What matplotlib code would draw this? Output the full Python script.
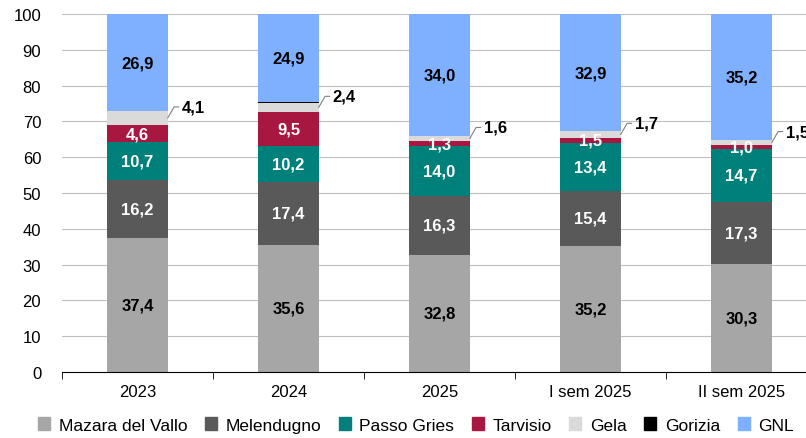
import matplotlib.pyplot as plt
from matplotlib.patches import Patch
import numpy as np

plt.rcParams['font.family'] = ['Liberation Sans', 'DejaVu Sans']

categories = ["2023", "2024", "2025", "I sem 2025", "II sem 2025"]
series = ["Mazara del Vallo", "Melendugno", "Passo Gries", "Tarvisio", "Gela", "Gorizia", "GNL"]
mazara = [37.4, 35.6, 32.8, 35.2, 30.3]
melendugno = [16.2, 17.4, 16.3, 15.4, 17.3]
passo_gries = [10.7, 10.2, 14.0, 13.4, 14.7]
tarvisio = [4.6, 9.5, 1.3, 1.5, 1.0]
gela = [4.1, 2.4, 1.6, 1.7, 1.5]
gorizia = [0.0, 0.2, 0.0, 0.0, 0.0]
gnl = [26.9, 24.9, 34.0, 32.9, 35.2]

values = [mazara, melendugno, passo_gries, tarvisio, gela, gorizia, gnl]
colors = ["#A6A6A6", "#595959", "#00807A", "#A8173F", "#DADADA", "#000000", "#7EB0FF"]
label_colors = ["black", "white", "white", "white", None, None, "black"]

fig = plt.figure(figsize=(8.06, 4.39), dpi=100)
ax = fig.add_axes([62 / 806, 66 / 439, 755 / 806, 358 / 439])

x = np.arange(len(categories))
width = 0.4
bottom = np.zeros(len(categories))
for vals, col, lc in zip(values, colors, label_colors):
    vals = np.array(vals)
    ax.bar(x, vals, width, bottom=bottom, color=col, zorder=2)
    if lc is not None:
        for i, v in enumerate(vals):
            ax.text(x[i], bottom[i] + v / 2, f"{v:.1f}".replace(".", ","),
                    ha="center", va="center", color=lc, fontsize=12,
                    fontweight="bold", zorder=3)
    elif col == "#DADADA":
        # Gela: label outside with a leader line
        for i, v in enumerate(vals):
            ax.annotate(f"{v:.1f}".replace(".", ","),
                        xy=(x[i] + width / 2, bottom[i] + v / 2),
                        xytext=(10, 8), textcoords="offset points",
                        ha="left", va="center", fontsize=12, fontweight="bold",
                        arrowprops=dict(arrowstyle="-", color="#808080", lw=0.8,
                                        shrinkA=0, shrinkB=0,
                                        connectionstyle="angle,angleA=180,angleB=60,rad=0"),
                        zorder=3)
    bottom += vals

ax.set_xlim(-0.5, len(categories) - 0.5)
ax.set_ylim(0, 100)
ax.set_yticks(range(0, 101, 10))
ax.yaxis.grid(True, color="#BFBFBF", lw=0.8, zorder=0)
ax.set_axisbelow(True)
for s in ["top", "right", "left"]:
    ax.spines[s].set_visible(False)
ax.spines["bottom"].set_color("black")
ax.tick_params(axis="y", length=0, labelsize=12, pad=15)
ax.set_xticks(x)
ax.set_xticklabels(categories, fontsize=12)
ax.tick_params(axis="x", which="major", length=0, pad=9)
ax.set_xticks(np.arange(-0.5, len(categories), 1), minor=True)
ax.tick_params(axis="x", which="minor", length=5, direction="out")

handles = [Patch(color=c) for c in colors]
fig.legend(handles, series, loc="center", bbox_to_anchor=(0.516, 1 - 426 / 439),
           ncol=7, frameon=False, fontsize=12.5, handlelength=0.7, handleheight=0.7,
           handletextpad=0.5, columnspacing=1.0)

fig.savefig("out.png", dpi=100)
